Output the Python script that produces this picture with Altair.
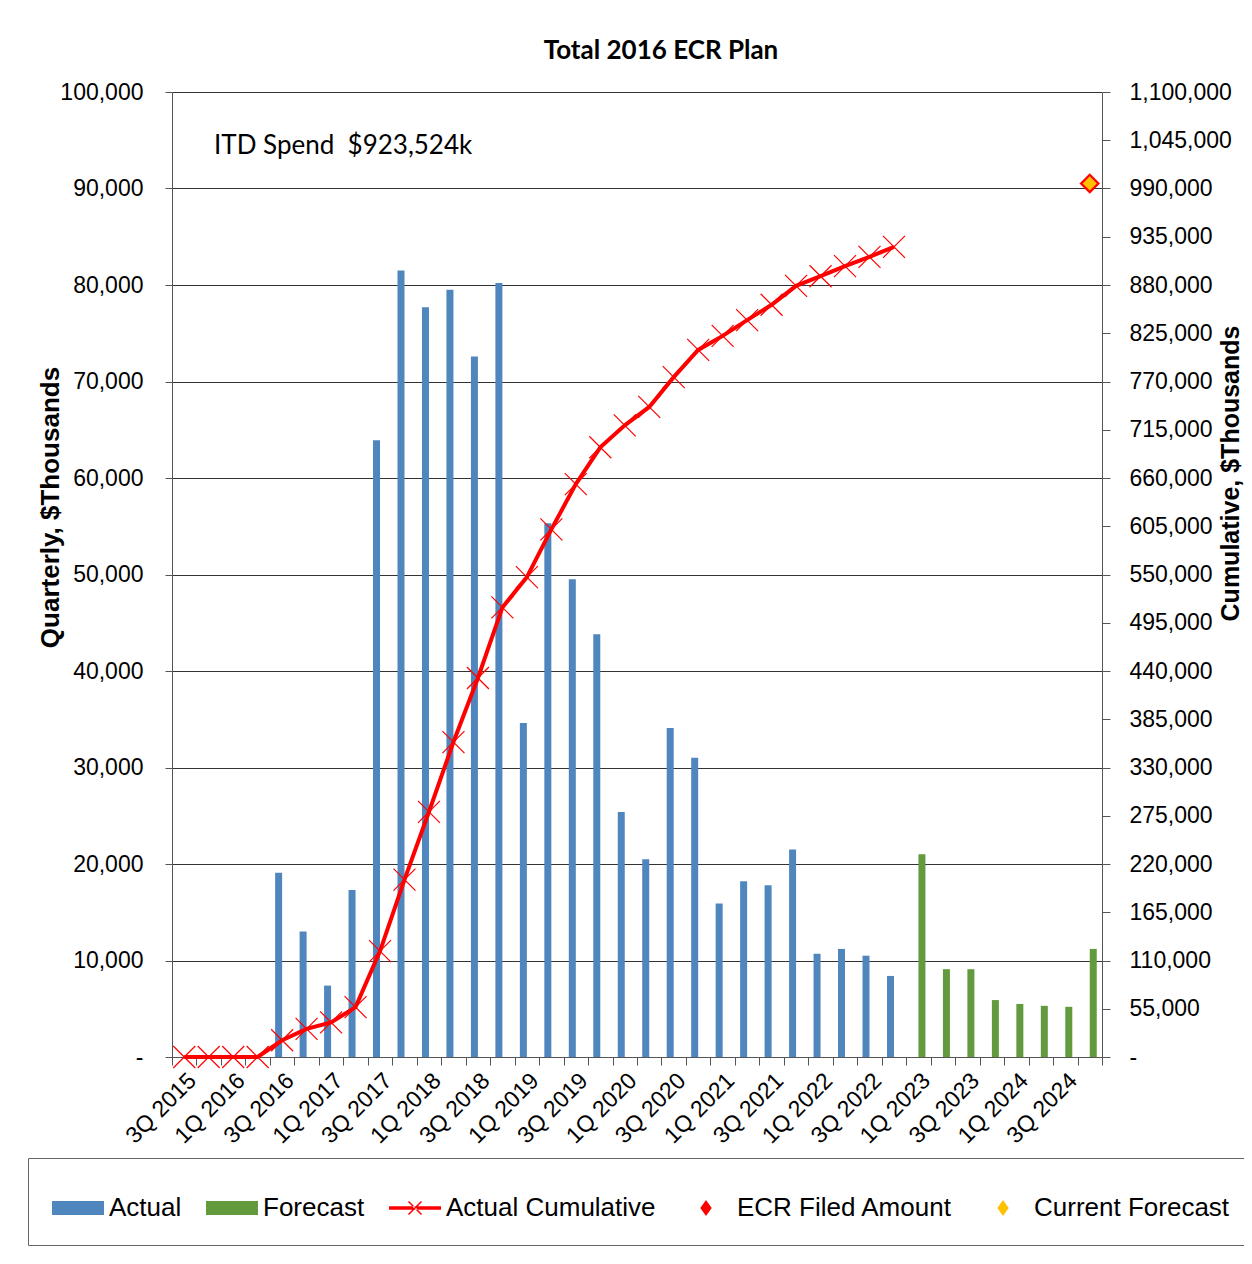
import altair as alt
import pandas as pd

quarters = [
    "3Q 2015", "4Q 2015",
    "1Q 2016", "2Q 2016", "3Q 2016", "4Q 2016",
    "1Q 2017", "2Q 2017", "3Q 2017", "4Q 2017",
    "1Q 2018", "2Q 2018", "3Q 2018", "4Q 2018",
    "1Q 2019", "2Q 2019", "3Q 2019", "4Q 2019",
    "1Q 2020", "2Q 2020", "3Q 2020", "4Q 2020",
    "1Q 2021", "2Q 2021", "3Q 2021", "4Q 2021",
    "1Q 2022", "2Q 2022", "3Q 2022", "4Q 2022",
    "1Q 2023", "2Q 2023", "3Q 2023", "4Q 2023",
    "1Q 2024", "2Q 2024", "3Q 2024", "4Q 2024",
]

# Quarterly actual spend ($Thousands), 3Q 2015 .. 4Q 2022
actual = [0, 0, 0, 0, 19100, 13000, 7400, 17300, 63900, 81500,
          77700, 79500, 72600, 80200, 34600, 55300, 49500, 43800, 25400, 20500,
          34100, 31000, 15900, 18200, 17800, 21500, 10700, 11200, 10500, 8400]

# Quarterly forecast ($Thousands), 1Q 2023 .. 4Q 2024
forecast = [21000, 9100, 9100, 5900, 5500, 5300, 5200, 11200]

# Actual cumulative ($Thousands), 3Q 2015 .. 4Q 2022
cumulative = [0, 0, 0, 0, 19100, 32100, 39500, 56800, 120700, 202200,
              279500, 359000, 432000, 512500, 547000, 601500, 653000, 695000, 720000, 741000,
              775000, 806000, 822000, 840000, 857500, 879000, 890000, 901600, 912000, 923524]

ecr_filed_amount = 995800
current_forecast = 995800
marker_quarter = "4Q 2024"

itd_text = "ITD Spend\u00a0 $923,524k"

series_names = ["Actual", "Forecast", "Actual Cumulative", "ECR Filed Amount", "Current Forecast"]
series_colors = ["#4F86BE", "#629A3D", "#FF0000", "#FF0000", "#FFC000"]
series_shapes = [
    "M-1,-0.27H1V0.27H-1Z",
    "M-1,-0.27H1V0.27H-1Z",
    "M-1,-0.07H1V0.07H-1Z M-0.27,-0.23L0.23,0.27L0.27,0.23L-0.23,-0.27Z M-0.27,0.23L0.23,-0.27L0.27,-0.23L-0.23,0.27Z",
    "M0,-0.31L0.22,0L0,0.31L-0.22,0Z",
    "M0,-0.31L0.22,0L0,0.31L-0.22,0Z",
]

BLUE, GREEN, RED, GOLD = series_colors[0], series_colors[1], "#FF0000", "#FFC000"
FONT = "Liberation Sans"

actual_df = pd.DataFrame({"quarter": quarters[:len(actual)], "value": actual})
forecast_df = pd.DataFrame({"quarter": quarters[len(quarters) - len(forecast):], "value": forecast})
cum_df = pd.DataFrame({"quarter": quarters[:len(cumulative)], "cum": cumulative})
marker_df = pd.DataFrame({"quarter": [marker_quarter], "filed": [ecr_filed_amount],
                          "current": [current_forecast]})
legend_df = pd.DataFrame({"series": series_names})
note_df = pd.DataFrame({"t": [itd_text]})

x_scale = alt.Scale(domain=quarters, paddingInner=0, paddingOuter=0)
x_axis = alt.Axis(
    title=None, labelAngle=315, labelAlign="right", labelBaseline="top",
    labelFontSize=23, labelFont=FONT, labelColor="black", labelOverlap=False,
    labelExpr="(slice(datum.label,0,2)=='3Q' || slice(datum.label,0,2)=='1Q') ? datum.label : ''",
    tickBand="extent", tickSize=8, tickColor="#555", domainColor="#555", labelPadding=4,
)
X = alt.X("quarter:N", scale=x_scale, axis=x_axis)
X_noaxis = alt.X("quarter:N", scale=x_scale)

left_scale = alt.Scale(domain=[0, 100000], nice=False, zero=True)
left_axis = alt.Axis(
    orient="left",
    values=list(range(0, 100001, 10000)),
    labelExpr="datum.value == 0 ? '-' : format(datum.value, ',')",
    labelFontSize=23, labelFont=FONT, labelColor="black", labelPadding=22,
    tickSize=7, tickColor="#555", domainColor="#555",
    grid=True, gridColor="#333333", gridWidth=1,
    title="Quarterly, $Thousands", titleFont=FONT, titleFontSize=26, titleFontWeight="bold",
    titleColor="black", titleX=-122, titleY=415, titleAlign="center", titleBaseline="middle",
    titleAngle=270,
)
right_scale = alt.Scale(domain=[0, 1100000], nice=False, zero=True)
right_axis = alt.Axis(
    orient="right",
    values=list(range(0, 1100001, 55000)),
    labelExpr="datum.value == 0 ? '-' : format(datum.value, ',')",
    labelFontSize=23, labelFont=FONT, labelColor="black", labelPadding=19,
    tickSize=8, tickColor="#555", domainColor="#555", grid=False,
    title="Cumulative, $Thousands", titleFont=FONT, titleFontSize=25, titleFontWeight="bold",
    titleColor="black", titleX=128, titleY=381, titleAlign="center", titleBaseline="middle",
    titleAngle=270,
)

bars_actual = alt.Chart(actual_df).mark_bar(width=7, xOffset=-3.5, color=BLUE).encode(
    x=X, y=alt.Y("value:Q", scale=left_scale, axis=left_axis)
)
bars_forecast = alt.Chart(forecast_df).mark_bar(width=7, xOffset=3.5, color=GREEN).encode(
    x=X_noaxis, y=alt.Y("value:Q", scale=left_scale)
)
note = alt.Chart(note_df).mark_text(align="left", baseline="middle", font="Lato",
                                     fontSize=26, color="black").encode(
    x=alt.value(42), y=alt.value(54), text="t:N"
)

legend_def = alt.Legend(
    orient="none", legendX=-144, legendY=1066, direction="horizontal", columns=5,
    title=None, labelFontSize=26, labelFont=FONT, labelColor="black", labelLimit=400,
    labelOffset=5, symbolSize=2704, symbolStrokeWidth=0, symbolOpacity=1,
    columnPadding=24, padding=24, strokeColor="#666", fillColor="white",
)
legend_layer = alt.Chart(legend_df).mark_point(filled=True, opacity=1).encode(
    color=alt.Color("series:N", scale=alt.Scale(domain=series_names, range=series_colors),
                    legend=legend_def),
    shape=alt.Shape("series:N", scale=alt.Scale(domain=series_names, range=series_shapes),
                    legend=legend_def),
).transform_filter("false")

cum_line = alt.Chart(cum_df).mark_line(color=RED, strokeWidth=4).encode(
    x=X_noaxis, y=alt.Y("cum:Q", scale=right_scale, axis=right_axis)
)
cum_marks = alt.Chart(cum_df).mark_point(
    shape="M-1,-1L1,1M-1,1L1,-1", size=484, filled=False, color=RED, strokeWidth=1.2, opacity=1
).encode(x=X_noaxis, y=alt.Y("cum:Q", scale=right_scale))
filed_pt = alt.Chart(marker_df).mark_point(shape="diamond", filled=True, size=420, color=RED,
                                           opacity=1).encode(
    x=X_noaxis, y=alt.Y("filed:Q", scale=right_scale, title="")
)
current_pt = alt.Chart(marker_df).mark_point(shape="diamond", filled=True, size=200, color=GOLD,
                                             opacity=1).encode(
    x=X_noaxis, y=alt.Y("current:Q", scale=right_scale, title="")
)

left_group = alt.layer(bars_actual, bars_forecast)
right_group = alt.layer(cum_line, cum_marks, filed_pt, current_pt)

chart = alt.layer(left_group, right_group, note, legend_layer).resolve_scale(
    y="independent"
).properties(
    width=930, height=965,
    padding={"left": 164, "top": 84, "right": 142, "bottom": 191},
    autosize=alt.AutoSizeParams(type="none"),
    title=alt.Title("Total 2016 ECR Plan", font="Lato", fontSize=26, fontWeight="bold",
                    color="black", anchor="middle", frame="group", dx=24, dy=9, offset=5,
                    baseline="alphabetic"),
).configure(background="white").configure_view(strokeWidth=0)

chart.save("out.html", embed_options={"renderer": "svg", "actions": False})
